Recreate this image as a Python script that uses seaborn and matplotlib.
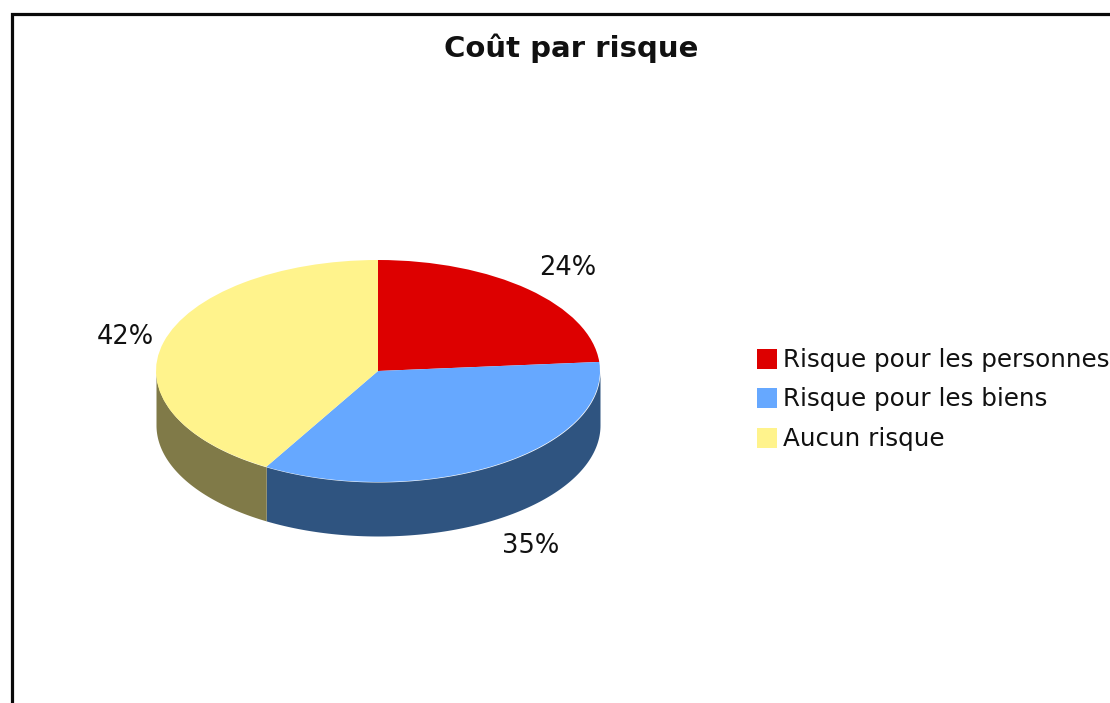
import numpy as np
import matplotlib
matplotlib.use("Agg")
import matplotlib.pyplot as plt
import seaborn as sns

title = "Coût par risque"
categories = ["Risque pour les personnes", "Risque pour les biens", "Aucun risque"]
values = [23.7, 34.7, 41.6]
percent_labels = ["24%", "35%", "42%"]
top_colors = ["#DD0000", "#66A8FF", "#FFF38C"]
side_colors = ["#6F0000", "#2F5480", "#807A48"]

sns.set_theme(style="white")
plt.rcParams["font.family"] = ["DejaVu Sans"]

W, H = 1110, 703
fig = plt.figure(figsize=(W / 100, H / 100), dpi=100, facecolor="white")
ax = fig.add_axes([0, 0, 1, 1])
ax.set_xlim(0, W)
ax.set_ylim(H, 0)
ax.axis("off")

cx, cy, rx, ry, depth = 378, 371, 222, 111, 54

fractions = np.array(values) / sum(values)
edges = 90 - 360 * np.concatenate([[0], np.cumsum(fractions)])

# side wall: only the front half of the rim is visible
for start, end, col in zip(edges[:-1], edges[1:], side_colors):
    lo, hi = max(end, -180), min(start, 0)
    if lo < hi:
        t = np.radians(np.linspace(lo, hi, 120))
        x = cx + rx * np.cos(t)
        y = cy - ry * np.sin(t)
        ax.fill_between(x, y, y + depth, color=col, lw=0)

# top face, drawn by pie on an axes squashed through the transform
pie_ax = fig.add_axes([(cx - rx) / W, 1 - (cy + ry) / H, 2 * rx / W, 2 * ry / H])
pie_ax.pie(values, colors=top_colors, startangle=90, counterclock=False, radius=1,
           wedgeprops=dict(linewidth=0))
pie_ax.set_aspect("auto")
pie_ax.set_xlim(-1, 1)
pie_ax.set_ylim(-1, 1)
pie_ax.axis("off")

# percent labels
mids = np.radians((edges[:-1] + edges[1:]) / 2)
for m, lab, dist in zip(mids, percent_labels, [1.26, 1.29, 1.18]):
    lx = cx + dist * rx * np.cos(m)
    ly = cy - dist * ry * np.sin(m)
    if np.sin(m) < 0:
        ly += depth
    ax.text(lx, ly, lab, ha="center", va="center", fontsize=18.5, color="#111111")

ax.text(571, 48, title, ha="center", va="center", fontsize=21, fontweight="bold", color="#111111")

# legend
for i, (cat, col) in enumerate(zip(categories, top_colors)):
    y = 358.5 + i * 39.7
    ax.scatter([767], [y], marker="s", s=207, color=col, linewidths=0)
    ax.text(783, y + 1, cat, ha="left", va="center", fontsize=17.7, color="#111111", clip_on=False)

# outer frame: left and top sides
ax.plot([11.5, 11.5, W], [H, 13.5, 13.5], color="#0a0a0a", lw=2.3, solid_joinstyle="miter")

fig.savefig("out.png", dpi=100)
